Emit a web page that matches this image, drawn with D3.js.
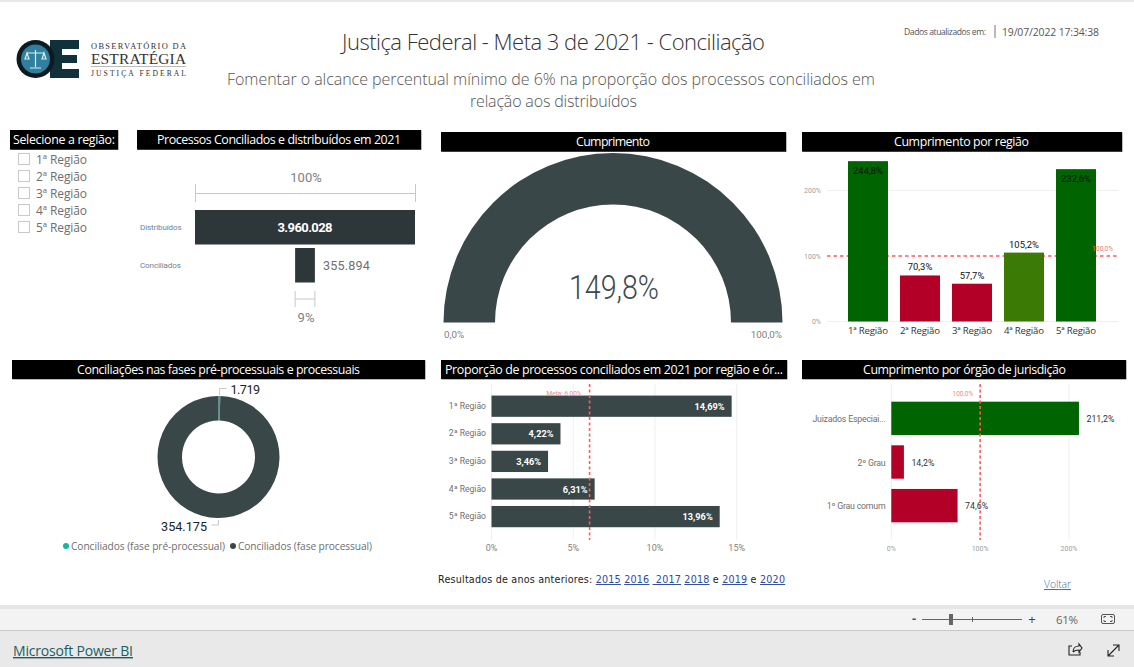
<!DOCTYPE html>
<html lang="pt-BR">
<head>
<meta charset="utf-8">
<script src="https://cdn.jsdelivr.net/npm/d3@7/dist/d3.min.js"></script>
<style>
html,body{margin:0;padding:0;background:#fff;overflow:hidden}
svg{display:block}
text{font-family:"Open Sans","Noto Sans",sans-serif}
.din{font-family:Roboto,"Noto Sans",sans-serif}
</style>
</head>
<body>
<svg id="c" width="1134" height="667"></svg>
<script>
const regioes = ["1ª Região","2ª Região","3ª Região","4ª Região","5ª Região"];
const cumprimentoRegiao = [244.8,70.3,57.7,105.2,232.6];
const proporcaoRegiao = [14.69,4.22,3.46,6.31,13.96];
const proporcaoLabels = ["14,69%","4,22%","3,46%","6,31%","13,96%"];
const orgaos = ["Juizados Especiai...","2º Grau","1º Grau comum"];
const cumprimentoOrgao = [211.2,14.2,74.6];
const funilCategorias = ["Distribuídos","Conciliados"];
const funilValores = [3960028,355894];
const funilLabels = ["3.960.028","355.894"];
const donutNomes = ["Conciliados (fase pré-processual)","Conciliados (fase processual)"];
const donutValores = [1719,354175];
const donutLabels = ["1.719","354.175"];
const gaugeValor = 149.8;
const gaugeMax = 100;
const metaProporcao = 6;
const metaCumprimento = 100;
const anos = ["2015","2016"," 2017","2018","2019","2020"];

const DARK="#3a4749", FUN="#2d3638", GREEN="#006400", RED="#b30027", OLIVE="#3c7a06", TEAL="#13b5a6";
const svg=d3.select("#c");
const fmtPct=v=>d3.format(".1f")(v).replace(".",",")+"%";
function txt(g,x,y,s,o={}){
  const t=g.append("text").attr("x",x).attr("y",y).attr("text-anchor",o.a||"start")
   .attr("fill",o.c||"#555").attr("font-size",o.s||11).attr("font-weight",o.w||400)
   .attr("class",o.cl||null).attr("letter-spacing",o.ls||null).text(s);
  if(o.tl) t.attr("textLength",o.tl).attr("lengthAdjust",o.la||"spacing");
  return t;
}
// page frame
svg.append("rect").attr("width",1134).attr("height",2).attr("fill","#e8e8e8");
svg.append("rect").attr("y",605).attr("width",1134).attr("height",4).attr("fill","#e6e6e6");
svg.append("rect").attr("y",609).attr("width",1134).attr("height",21).attr("fill","#f3f3f3");
svg.append("rect").attr("y",630).attr("width",1134).attr("height",1).attr("fill","#c8c8c8");
svg.append("rect").attr("y",631).attr("width",1134).attr("height",36).attr("fill","#e9e9e9");

// logo
const logo=svg.append("g");
logo.append("path").attr("fill","#10303a").attr("d","M50 40H79V49H62V55H77V63H62V69H79V78H50Z");
logo.append("circle").attr("cx",35.5).attr("cy",59).attr("r",19).attr("fill","#0d1a20");
logo.append("circle").attr("cx",35.5).attr("cy",59).attr("r",14.5).attr("fill","#2f7f9f");
logo.append("path").attr("stroke","#dfeef3").attr("stroke-width",1.2).attr("fill","none").attr("d","M35.5 50V67M30 68H41M27 53H44M27 53L25 59H29ZM44 53L42 59H46Z");
txt(logo,91,49,"OBSERVATÓRIO DA",{s:8.4,c:"#333",tl:95}).style("font-family","'Liberation Serif',serif");
txt(logo,91,64,"ESTRATÉGIA",{s:15.4,c:"#333",tl:95}).style("font-family","'Liberation Serif',serif");
logo.append("rect").attr("x",91).attr("y",66).attr("width",95).attr("height",.8).attr("fill","#aaa");
txt(logo,91,76,"JUSTIÇA FEDERAL",{s:7.6,c:"#333",tl:95}).style("font-family","'Liberation Serif',serif");

// titles
txt(svg,553.5,50,"Justiça Federal - Meta 3 de 2021 - Conciliação",{a:"middle",s:22,c:"#333",w:300,tl:423});
txt(svg,551,85,"Fomentar o alcance percentual mínimo de 6% na proporção dos processos conciliados em",{a:"middle",s:16,c:"#555",w:300,tl:648});
txt(svg,553.5,107,"relação aos distribuídos",{a:"middle",s:16,c:"#555",w:300,tl:167});
txt(svg,904,35,"Dados atualizados em:",{s:8.6,c:"#555",tl:82});
svg.append("line").attr("x1",995).attr("x2",995).attr("y1",25).attr("y2",38).attr("stroke","#777");
txt(svg,1002,36,"19/07/2022 17:34:38",{s:10.4,c:"#555",tl:97});

// black headers
const headers=[
 [10,130,108,19.5,"Selecione a região:",64,102],
 [137,130,284,19.5,"Processos Conciliados e distribuídos em 2021",279,244],
 [441,132,345,19.5,"Cumprimento",613,74],
 [802,132,320,19.5,"Cumprimento por região",961.5,135],
 [12,360,413,19,"Conciliações nas fases pré-processuais e processuais",218.5,283],
 [441,360,346,19,"Proporção de processos conciliados em 2021 por região e ór...",614,338],
 [802,360,324,19,"Cumprimento por órgão de jurisdição",964.5,203]];
headers.forEach(h=>{
  svg.append("rect").attr("x",h[0]+.5).attr("y",h[1]+.5).attr("width",h[2]).attr("height",h[3]).attr("fill","#777");
  svg.append("rect").attr("x",h[0]).attr("y",h[1]).attr("width",h[2]).attr("height",h[3]).attr("fill","#000");
  txt(svg,h[5],h[1]+h[3]/2+4.5,h[4],{a:"middle",c:"#fff",s:12.4,tl:h[6]});
});

// slicer
const slicer=svg.append("g");
regioes.forEach((r,i)=>{
  const y=153.5+i*17;
  slicer.append("rect").attr("x",18.5).attr("y",y).attr("width",11).attr("height",11).attr("fill","#fff").attr("stroke","#c9c9c9");
  txt(slicer,36,y+10.5,r,{s:12,c:"#6e6e6e",tl:51});
});

// funnel
const fun=svg.append("g");
const fx=d3.scaleLinear().domain([0,funilValores[0]]).range([0,220]);
const fy=d3.scaleBand().domain(funilCategorias).range([210,282.5]).paddingInner(.092).paddingOuter(0);
funilCategorias.forEach((c,i)=>{
  const w=fx(funilValores[i]), y=fy(c), h=fy.bandwidth();
  fun.append("rect").attr("x",305-w/2).attr("y",y).attr("width",w).attr("height",h).attr("fill",FUN);
  txt(fun,140,y+h/2+3,c,{s:8,c:"#6b7f9a",cl:"din",ls:-.1});
  if(i===0) txt(fun,305,y+h/2+4.5,funilLabels[i],{a:"middle",c:"#fff",s:13,w:700,cl:"din",tl:55});
  else txt(fun,305+w/2+8,y+h/2+4.5,funilLabels[i],{s:12.6,c:"#707070",cl:"din",tl:47});
});
const brk=(x1,x2,y,t1,t2)=>{
  fun.append("path").attr("fill","none").attr("stroke","#c8c8c8").attr("stroke-width",1)
    .attr("d",`M${x1} ${t1}V${t2}M${x2} ${t1}V${t2}M${x1} ${y}H${x2}`);
};
brk(195.5,415.5,193.5,184,202);
txt(fun,306,182,"100%",{a:"middle",s:13,c:"#808080",cl:"din"});
const w9=fx(funilValores[1]);
brk(305-w9/2,305+w9/2,299,291,307);
txt(fun,306,322,"9%",{a:"middle",s:13,c:"#808080",cl:"din"});

// gauge
const gauge=svg.append("g").attr("transform","translate(613,322.5)");
const ga=d3.scaleLinear().domain([0,gaugeMax]).range([-Math.PI/2,Math.PI/2]).clamp(true);
gauge.append("path").attr("fill",DARK)
  .attr("d",d3.arc().innerRadius(118).outerRadius(169.5).startAngle(ga(0)).endAngle(ga(gaugeValor))());
txt(gauge,1,-23.5,fmtPct(gaugeValor),{a:"middle",s:33,c:"#3d4a4d",cl:"din",w:300,tl:90,la:"spacingAndGlyphs"});
txt(gauge,-169,15,"0,0%",{s:9.8,c:"#808080",cl:"din"});
txt(gauge,169,15,"100,0%",{a:"end",s:9.8,c:"#808080",cl:"din"});

const colorOf=v=>v>=200?GREEN:v>=100?OLIVE:RED;

// region columns
const rg=svg.append("g");
const ry=d3.scaleLinear().domain([0,200]).range([321.5,190.5]);
const rx=d3.scaleBand().domain(regioes).range([842,1102]).paddingInner(12/52).paddingOuter(6/52);
[0,100,200].forEach(t=>{
  if(t!==100) rg.append("line").attr("x1",827).attr("x2",1118).attr("y1",ry(t)).attr("y2",ry(t)).attr("stroke","#efefef");
  txt(rg,821,ry(t)+2.5,t+"%",{a:"end",s:7,c:"#a0a0a0",cl:"din"});
});
rg.append("line").attr("x1",827).attr("x2",1118).attr("y1",ry(metaCumprimento)).attr("y2",ry(metaCumprimento))
  .attr("stroke","#ff5a5f").attr("stroke-width",1.6).attr("stroke-dasharray","3.5 3");
rg.selectAll("rect.b").data(regioes).enter().append("rect").attr("class","b")
  .attr("x",d=>rx(d)).attr("width",rx.bandwidth())
  .attr("y",(d,i)=>ry(cumprimentoRegiao[i])).attr("height",(d,i)=>ry(0)-ry(cumprimentoRegiao[i]))
  .attr("fill",(d,i)=>colorOf(cumprimentoRegiao[i]));
txt(rg,1113,ry(metaCumprimento)-5,"100,0%",{a:"end",s:6.5,c:"#f0806a",cl:"din"});
regioes.forEach((r,i)=>{
  const v=cumprimentoRegiao[i], cx=rx(r)+rx.bandwidth()/2;
  const inside=v>200;
  txt(rg,cx,inside?ry(v)+12.5:ry(v)-5,fmtPct(v),{a:"middle",s:9.4,c:"#111",cl:"din"});
  txt(rg,cx,334,r,{a:"middle",s:9.6,c:"#333",tl:40});
});

// donut
const dn=svg.append("g").attr("transform","translate(218.5,457)");
const pie=d3.pie().sort(null)(donutValores);
const arc=d3.arc().innerRadius(36.5).outerRadius(61);
const dc=[TEAL,DARK];
dn.selectAll("path.s").data(pie).enter().append("path").attr("class","s")
  .attr("d",arc).attr("fill",(d,i)=>dc[i]);
dn.append("path").attr("fill","none").attr("stroke","#c8c8c8").attr("d","M1 -62V-68.5H8");
dn.append("path").attr("fill","none").attr("stroke","#c8c8c8").attr("d","M0 63V68H-7");
txt(dn,12,-62.7,donutLabels[0],{s:12.6,c:"#222",cl:"din",tl:29.5});
txt(dn,-57.5,74,donutLabels[1],{s:12.6,c:"#222",cl:"din",tl:46});
const lg=svg.append("g");
lg.append("circle").attr("cx",66).attr("cy",546).attr("r",3).attr("fill",TEAL);
txt(lg,71,550,donutNomes[0],{s:10.2,c:"#6e6e6e",tl:154});
lg.append("circle").attr("cx",233).attr("cy",546).attr("r",3).attr("fill",DARK);
txt(lg,238,550,donutNomes[1],{s:10.2,c:"#6e6e6e",tl:134});

// proportion bars
const pg=svg.append("g");
const px=d3.scaleLinear().domain([0,15]).range([491.5,736.7]);
const py=d3.scaleBand().domain(regioes).range([392.4,530.4]).paddingInner(.23).paddingOuter(.115);
[0,5,10,15].forEach(t=>{
  pg.append("line").attr("x1",px(t)).attr("x2",px(t)).attr("y1",384).attr("y2",540).attr("stroke","#efefef");
  txt(pg,px(t),551,t+"%",{a:"middle",s:9,c:"#808080",cl:"din"});
});
regioes.forEach((r,i)=>{
  const y=py(r), v=proporcaoRegiao[i];
  pg.append("rect").attr("x",px(0)).attr("y",y).attr("width",px(v)-px(0)).attr("height",py.bandwidth()).attr("fill",DARK);
  txt(pg,px(v)-7,y+py.bandwidth()/2+3.5,proporcaoLabels[i],{a:"end",s:9.2,w:700,c:"#fff",cl:"din"});
  txt(pg,486,y+py.bandwidth()/2+2.5,r,{a:"end",s:8.6,c:"#707070",cl:"din"});
});
pg.append("line").attr("x1",px(metaProporcao)).attr("x2",px(metaProporcao)).attr("y1",384).attr("y2",540)
  .attr("stroke","#ff5a5f").attr("stroke-width",1.6).attr("stroke-dasharray","3 2.5");
txt(pg,px(metaProporcao)-8,396,"Meta: 6,00%",{a:"end",s:6.5,c:"#f28a8a",cl:"din"});

// organ bars
const og=svg.append("g");
const ox=d3.scaleLinear().domain([0,200]).range([891.3,1069]);
const oy=d3.scaleBand().domain(orgaos).range([396,528]).paddingInner(.235).paddingOuter(.13);
[0,100,200].forEach(t=>{
  og.append("line").attr("x1",ox(t)).attr("x2",ox(t)).attr("y1",384).attr("y2",540).attr("stroke","#efefef");
  txt(og,ox(t),550.5,t+"%",{a:"middle",s:7,c:"#a0a0a0",cl:"din"});
});
orgaos.forEach((o,i)=>{
  const y=oy(o), v=cumprimentoOrgao[i];
  og.append("rect").attr("x",ox(0)).attr("y",y).attr("width",ox(v)-ox(0)).attr("height",oy.bandwidth()).attr("fill",colorOf(v));
  txt(og,ox(v)+7.5,y+oy.bandwidth()/2+3.5,fmtPct(v),{s:8.8,c:"#333",cl:"din"});
  txt(og,885.5,y+oy.bandwidth()/2+3.5,o,{a:"end",s:8.8,c:"#707070",cl:"din",ls:-.22});
});
og.append("line").attr("x1",ox(metaCumprimento)).attr("x2",ox(metaCumprimento)).attr("y1",384).attr("y2",540)
  .attr("stroke","#ff5a5f").attr("stroke-width",1.6).attr("stroke-dasharray","3 2.5");
txt(og,ox(metaCumprimento)-7,396,"100,0%",{a:"end",s:6.5,c:"#f28a8a",cl:"din"});

// previous years
const ft=svg.append("text").attr("x",438).attr("y",583).attr("font-size",9.6).attr("fill","#222").attr("letter-spacing",.2);
ft.style("font-family","'DejaVu Sans',sans-serif").style("white-space","pre");
ft.append("tspan").text("Resultados de anos anteriores: ");
anos.forEach((a,i)=>{
  ft.append("tspan").attr("fill","#2b4a9e").attr("text-decoration","underline").text(a);
  ft.append("tspan").text(i===3||i===4?" e ":" ");
});
txt(svg,1044,588,"Voltar",{s:10.4,c:"#4a6fa5",w:300,tl:27}).attr("text-decoration","underline");

// toolbar
const tb=svg.append("g");
txt(tb,912,623,"-",{s:13,c:"#555",w:700});
tb.append("line").attr("x1",922).attr("x2",1022).attr("y1",619.5).attr("y2",619.5).attr("stroke","#666");
tb.append("line").attr("x1",972.5).attr("x2",972.5).attr("y1",617).attr("y2",622).attr("stroke","#666");
tb.append("rect").attr("x",949).attr("y",614).attr("width",4).attr("height",11).attr("fill","#666");
txt(tb,1032,624,"+",{a:"middle",s:13,c:"#444"});
txt(tb,1056,623.5,"61%",{s:11.5,c:"#666",tl:22});
tb.append("rect").attr("x",1101.5).attr("y",614.5).attr("width",13).attr("height",9).attr("rx",1.5).attr("fill","none").attr("stroke","#555");
tb.append("path").attr("fill","none").attr("stroke","#555").attr("d","M1104 618v-1.5h2M1112 618v-1.5h-2M1104 620v1.5h2M1112 620v1.5h-2");
txt(svg,13,656,"Microsoft Power BI",{s:14,c:"#1c5d63",w:500,tl:120}).attr("text-decoration","underline");
tb.append("path").attr("fill","none").attr("stroke","#222").attr("stroke-width",1.1)
 .attr("d","M1072 646h-3v9h11v-3M1073 652c0-4 3-6 6-6v-2l3 4-3 4v-2c-3 0-4 0-6 2");
tb.append("path").attr("fill","none").attr("stroke","#222").attr("stroke-width",1.1)
 .attr("d","M1108 656L1119 645M1113 645h6v6M1108 650v6h6");
</script>
</body>
</html>
